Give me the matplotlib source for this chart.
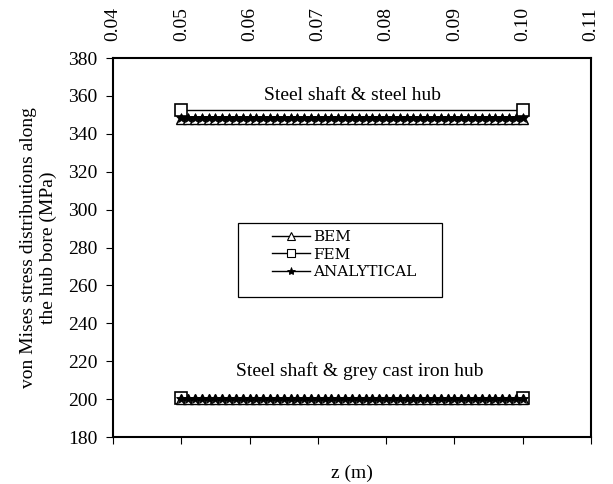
import numpy as np
import matplotlib
matplotlib.use("Agg")
import matplotlib.pyplot as plt
from matplotlib.lines import Line2D
from matplotlib.patches import Rectangle

plt.rcParams['font.family'] = ['Liberation Serif', 'DejaVu Serif']

# axial positions along the hub bore (m)
z = np.round(np.arange(0.050, 0.1001, 0.001), 3)
z_fem = [0.05, 0.10]

# steel shaft & steel hub
bem_steel = [348.0] * len(z)
ana_steel = [348.5] * len(z)
fem_steel = [352.5, 352.5]

# steel shaft & grey cast iron hub
bem_iron = [200.0] * len(z)
ana_iron = [200.3] * len(z)
fem_iron = [200.6, 200.6]

xticks = [0.04, 0.05, 0.06, 0.07, 0.08, 0.09, 0.10, 0.11]
xtick_labels = ["0.04", "0.05", "0.06", "0.07", "0.08", "0.09", "0.10", "0.11"]
yticks = list(range(180, 381, 20))

fig = plt.figure(figsize=(6.13, 4.84), dpi=100)
ax = fig.add_axes([0.1843, 0.097, 0.7797, 0.783])

for bem, fem, ana in [(bem_steel, fem_steel, ana_steel),
                      (bem_iron, fem_iron, ana_iron)]:
    ax.plot(z_fem, fem, marker='s', color='black', lw=1.0, markersize=8,
            markerfacecolor='white', markeredgecolor='black',
            markeredgewidth=1.2)
    ax.plot(z, bem, marker='^', color='black', lw=1.0, markersize=7,
            markerfacecolor='white', markeredgecolor='black',
            markeredgewidth=1.0)
    ax.plot(z, ana, marker='*', color='black', lw=1.0, markersize=7,
            markeredgewidth=0.6)

ax.set_xlim(0.04, 0.11)
ax.set_ylim(180, 380)
ax.set_xticks(xticks)
ax.set_xticklabels(xtick_labels)
ax.set_yticks(yticks)

ax.tick_params(axis='x', which='both', bottom=True, top=False,
               labelbottom=False, labeltop=True, labelrotation=90,
               direction='out', length=5, labelsize=14, pad=7)
ax.tick_params(axis='y', direction='out', length=5, labelsize=14, pad=6)

for s in ax.spines.values():
    s.set_linewidth(1.5)

ax.set_xlabel('z (m)', fontsize=14, labelpad=15)
ax.xaxis.set_label_position('bottom')
ax.set_ylabel('von Mises stress distributions along\nthe hub bore (MPa)',
              fontsize=14, labelpad=8)

ax.text(0.0751, 360.5, 'Steel shaft & steel hub', ha='center', va='center',
        fontsize=14)
ax.text(0.0762, 215, 'Steel shaft & grey cast iron hub', ha='center',
        va='center', fontsize=14)

# legend: entries without frame, boxed by a separate rectangle
handles = [
    Line2D([], [], color='black', lw=1.0, marker='^', markersize=6,
           markerfacecolor='white', markeredgecolor='black',
           markeredgewidth=0.8),
    Line2D([], [], color='black', lw=1.0, marker='s', markersize=6,
           markerfacecolor='white', markeredgecolor='black',
           markeredgewidth=0.8),
    Line2D([], [], color='black', lw=1.0, marker='*', markersize=6,
           markeredgewidth=0.6),
]
leg = ax.legend(handles, ['BEM', 'FEM', 'ANALYTICAL'],
                loc='center left', bbox_to_anchor=(0.333, 0.4815),
                prop={'family': 'DejaVu Serif', 'size': 11},
                frameon=False, handlelength=2.5, labelspacing=0.22,
                borderpad=0, handletextpad=0.2, borderaxespad=0)
ax.add_patch(Rectangle((0.2615, 0.3694), 0.4268, 0.1952,
                       transform=ax.transAxes, facecolor='white',
                       edgecolor='black', lw=0.9, zorder=4))
leg.set_zorder(5)

fig.savefig('out.png', dpi=100)
